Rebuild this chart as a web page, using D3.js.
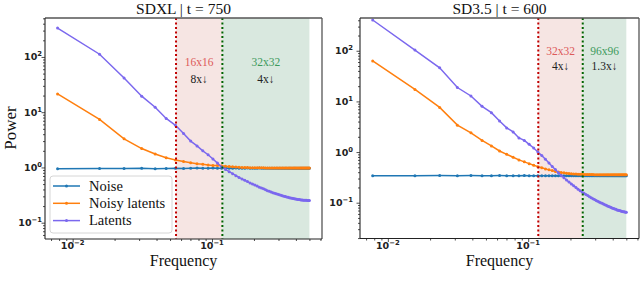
<!DOCTYPE html>
<html><head><meta charset="utf-8">
<script src="https://cdn.jsdelivr.net/npm/d3@7/dist/d3.min.js"></script>
<style>html,body{margin:0;padding:0;background:#fff;}svg{display:block;}</style>
</head><body>
<svg id="chart" width="640" height="303"></svg>
<script>
const freqs = [0.0078,0.0156,0.0234,0.0313,0.0391,0.0469,0.0547,0.0625,0.0703,0.0781,0.0859,0.0938,0.1016,0.1094,0.1172,0.125,
0.1328,0.1406,0.1484,0.1563,0.1641,0.1719,0.1797,0.1875,0.1953,0.2031,0.2109,0.2188,0.2266,0.2344,0.2422,0.25,
0.2578,0.2656,0.2734,0.2813,0.2891,0.2969,0.3047,0.3125,0.3203,0.3281,0.3359,0.3438,0.3516,0.3594,0.3672,0.375,
0.3828,0.3906,0.3984,0.4063,0.4141,0.4219,0.4297,0.4375,0.4453,0.4531,0.4609,0.4688,0.4766,0.4844,0.4922,0.5];

const seriesNames = ["Noise","Noisy latents","Latents"];
const seriesColors = ["#1f77b4","#ff7f0e","#7b68ee"];

const sdxlNoise = [0.95,0.96,0.96,0.97,0.95,0.96,0.97,0.96,0.97,0.98,0.97,0.97,0.98,0.97,0.97,0.98,
0.97,0.97,0.98,0.97,0.97,0.97,0.98,0.97,0.97,0.97,0.97,0.98,0.97,0.97,0.97,0.97,
0.97,0.97,0.97,0.97,0.97,0.97,0.97,0.97,0.97,0.97,0.97,0.97,0.97,0.97,0.97,0.97,
0.97,0.97,0.97,0.97,0.97,0.97,0.97,0.97,0.97,0.97,0.97,0.97,0.97,0.97,0.97,0.97];
const sdxlNoisy = [21.4,7.4,3.3,2.2,1.75,1.5,1.37,1.28,1.22,1.17,1.14,1.11,1.09,1.08,1.07,1.05,
1.04,1.03,1.02,1.01,1.0,1.0,1.0,0.99,0.99,0.99,0.99,0.99,0.99,0.99,0.98,0.98,
0.98,0.98,0.98,0.98,0.98,0.98,0.98,0.98,0.98,0.98,0.98,0.98,0.98,0.98,0.98,0.98,
0.98,0.98,0.98,0.98,0.98,0.98,0.98,0.98,0.98,0.98,0.98,0.98,0.98,0.98,0.98,0.98];
const sdxlLatents = [334,112,41.7,19.5,12.3,7.7,5.8,4.1,3.0,2.45,2.0,1.7,1.42,1.2,1.02,0.92,
0.84,0.77,0.71,0.66,0.62,0.585,0.555,0.525,0.5,0.48,0.46,0.44,0.425,0.41,0.395,0.38,
0.37,0.36,0.35,0.34,0.333,0.326,0.319,0.313,0.307,0.302,0.297,0.292,0.288,0.284,0.28,0.277,
0.274,0.271,0.268,0.266,0.264,0.262,0.26,0.258,0.257,0.256,0.255,0.254,0.254,0.253,0.253,0.253];

const sd35Noise = [0.342,0.342,0.343,0.342,0.343,0.342,0.342,0.343,0.342,0.342,0.342,0.343,0.342,0.342,0.342,0.342,
0.342,0.342,0.342,0.342,0.342,0.342,0.342,0.342,0.342,0.342,0.342,0.342,0.342,0.342,0.342,0.342,
0.342,0.342,0.342,0.342,0.342,0.342,0.342,0.342,0.342,0.342,0.342,0.342,0.342,0.342,0.342,0.342,
0.342,0.342,0.342,0.342,0.342,0.342,0.342,0.342,0.342,0.342,0.342,0.342,0.342,0.342,0.342,0.342];
const sd35Noisy = [63,17.2,7.6,3.4,2.4,1.7,1.32,1.05,0.9,0.79,0.7,0.64,0.59,0.55,0.515,0.49,
0.465,0.445,0.43,0.415,0.405,0.395,0.388,0.382,0.377,0.373,0.37,0.368,0.366,0.364,0.363,0.362,
0.361,0.36,0.36,0.359,0.359,0.358,0.358,0.358,0.357,0.357,0.357,0.357,0.356,0.356,0.356,0.356,
0.356,0.356,0.355,0.355,0.355,0.355,0.355,0.355,0.355,0.355,0.355,0.355,0.355,0.355,0.355,0.355];
const sd35Latents = [405,103,46,18.8,12.8,8.0,6.0,4.1,3.0,2.5,1.9,1.7,1.42,1.2,1.0,0.85,
0.72,0.61,0.52,0.45,0.39,0.345,0.31,0.28,0.255,0.235,0.215,0.2,0.185,0.173,0.162,0.153,
0.145,0.138,0.131,0.125,0.12,0.115,0.111,0.107,0.103,0.1,0.097,0.094,0.091,0.089,0.086,0.084,
0.082,0.08,0.078,0.077,0.075,0.074,0.072,0.071,0.07,0.069,0.068,0.067,0.066,0.066,0.065,0.065];

const titles = ["SDXL | t = 750","SD3.5 | t = 600"];
const cutoffs = [[0.0552,0.1187],[0.118,0.2446]];
const cutoffLabels = [["16x16","32x32"],["32x32","96x96"]];
const factorLabels = [["8x↓","4x↓"],["4x↓","1.3x↓"]];
const annotY = [[81,40],[100,50]];
const yDomains = [[0.0507,507],[0.01963,443.6]];
const xTickVals = [0.01,0.1];
const yTickVals = [0.1,1,10,100];

const panels = [
  {title:titles[0], series:[sdxlNoise,sdxlNoisy,sdxlLatents], cut:cutoffs[0], cutL:cutoffLabels[0], facL:factorLabels[0], aY:annotY[0], yDom:yDomains[0],
   x0:45, x1:322, y0:18, y1:239, lblGap:3, legend:true},
  {title:titles[1], series:[sd35Noise,sd35Noisy,sd35Latents], cut:cutoffs[1], cutL:cutoffLabels[1], facL:factorLabels[1], aY:annotY[1], yDom:yDomains[1],
   x0:360, x1:639, y0:18, y1:238.5, lblGap:7, legend:false}
];

const svg = d3.select("#chart");
const serif = "'Liberation Serif','Times New Roman',serif";
const sans = "'DejaVu Sans',sans-serif";

function logLabel(sel, v){
  const e = Math.round(Math.log10(v));
  sel.text(null);
  sel.append("tspan").text("10");
  sel.append("tspan").attr("dy",-4).attr("font-size",6.8).text(String(e).replace("-","−"));
}

panels.forEach(p=>{
  const fmin = d3.min(freqs), fmax = d3.max(freqs);
  const lmin = Math.log10(fmin), lmax = Math.log10(fmax), m = (lmax-lmin)*0.05;
  const x = d3.scaleLog().domain([Math.pow(10,lmin-m), Math.pow(10,lmax+m)]).range([p.x0,p.x1]);
  const y = d3.scaleLog().domain(p.yDom).range([p.y1,p.y0]);
  const g = svg.append("g");

  // shaded regions
  g.append("rect").attr("x",x(p.cut[0])).attr("y",p.y0).attr("width",x(p.cut[1])-x(p.cut[0])).attr("height",p.y1-p.y0).attr("fill","#f6e5e3");
  g.append("rect").attr("x",x(p.cut[1])).attr("y",p.y0).attr("width",x(fmax)-x(p.cut[1])).attr("height",p.y1-p.y0).attr("fill","#d9e8df");

  // series
  p.series.forEach((vals,i)=>{
    const pts = freqs.map((f,j)=>[f,vals[j]]);
    g.append("path").datum(pts).attr("fill","none").attr("stroke",seriesColors[i]).attr("stroke-width",1.5)
      .attr("d", d3.line().x(d=>x(d[0])).y(d=>y(d[1])));
    g.selectAll(null).data(pts).enter().append("circle").attr("cx",d=>x(d[0])).attr("cy",d=>y(d[1])).attr("r",1.5).attr("fill",seriesColors[i]);
  });

  // cutoff lines
  [["#c00000",p.cut[0]],["#006400",p.cut[1]]].forEach(([c,f])=>{
    g.append("line").attr("x1",x(f)).attr("x2",x(f)).attr("y1",p.y0).attr("y2",p.y1).attr("stroke",c).attr("stroke-width",2).attr("stroke-dasharray","2,2.5");
  });

  // annotations
  const annColors = ["#dd5a5a","#3d9a5c"];
  [0,1].forEach(k=>{
    const cx = (x(p.cut[k]) + (k===0 ? x(p.cut[1]) : x(fmax)))/2;
    g.append("text").attr("x",cx).attr("y",y(p.aY[0])+4).attr("text-anchor","middle").attr("font-family",serif).attr("font-size",11.5).attr("fill",annColors[k]).text(p.cutL[k]);
    g.append("text").attr("x",cx).attr("y",y(p.aY[1])+4).attr("text-anchor","middle").attr("font-family",serif).attr("font-size",11.5).attr("fill","#222").text(p.facL[k]);
  });

  // spines
  g.append("line").attr("x1",p.x0).attr("x2",p.x1).attr("y1",p.y0).attr("y2",p.y0).attr("stroke","#555").attr("stroke-width",1.3);
  g.append("line").attr("x1",p.x1).attr("x2",p.x1).attr("y1",p.y0).attr("y2",p.y1).attr("stroke","#555").attr("stroke-width",1.3);
  g.append("line").attr("x1",p.x0).attr("x2",p.x0).attr("y1",p.y0).attr("y2",p.y1).attr("stroke","#222").attr("stroke-width",1.1);
  g.append("line").attr("x1",p.x0).attr("x2",p.x1).attr("y1",p.y1).attr("y2",p.y1).attr("stroke","#222").attr("stroke-width",1.1);

  // x ticks
  const xd = x.domain();
  const xMinor = [];
  for(let e=-3;e<=0;e++) for(let k=2;k<=9;k++){ const v=k*Math.pow(10,e); if(v>=xd[0]&&v<=xd[1]) xMinor.push(v); }
  const xAxisMinor = d3.axisBottom(x).tickValues(xMinor).tickSize(2).tickFormat("");
  const xAxisMajor = d3.axisBottom(x).tickValues(xTickVals).tickSize(3.5).tickFormat("");
  [xAxisMinor,xAxisMajor].forEach(ax=>{
    const a = g.append("g").attr("transform",`translate(0,${p.y1})`).call(ax);
    a.select(".domain").remove();
    a.selectAll("line").attr("stroke","#222").attr("stroke-width",0.8);
  });
  xTickVals.forEach(v=>{
    const t = g.append("text").attr("x",x(v)).attr("y",249).attr("text-anchor","middle").attr("font-family",sans).attr("font-weight","bold").attr("font-size",9.5).attr("fill","#222");
    logLabel(t,v);
  });

  // y ticks
  const yd = y.domain();
  const yMinor = [];
  for(let e=-3;e<=3;e++) for(let k=2;k<=9;k++){ const v=k*Math.pow(10,e); if(v>=yd[0]&&v<=yd[1]) yMinor.push(v); }
  const yAxisMinor = d3.axisLeft(y).tickValues(yMinor).tickSize(2).tickFormat("");
  const yAxisMajor = d3.axisLeft(y).tickValues(yTickVals).tickSize(3.5).tickFormat("");
  [yAxisMinor,yAxisMajor].forEach(ax=>{
    const a = g.append("g").attr("transform",`translate(${p.x0},0)`).call(ax);
    a.select(".domain").remove();
    a.selectAll("line").attr("stroke","#222").attr("stroke-width",0.8);
  });
  yTickVals.forEach(v=>{
    const t = g.append("text").attr("x",p.x0-p.lblGap).attr("y",y(v)+3.5).attr("text-anchor","end").attr("font-family",sans).attr("font-weight","bold").attr("font-size",9.5).attr("fill","#222");
    logLabel(t,v);
  });

  // title & x label
  g.append("text").attr("x",(p.x0+p.x1)/2).attr("y",14).attr("text-anchor","middle").attr("font-family",serif).attr("font-size",15.5).attr("fill","#111").text(p.title);
  g.append("text").attr("x",(p.x0+p.x1)/2).attr("y",266).attr("text-anchor","middle").attr("font-family",serif).attr("font-size",16).attr("fill","#111").text("Frequency");

  if(p.legend){
    const lg = g.append("g");
    lg.append("rect").attr("x",50).attr("y",176).attr("width",122).attr("height",57).attr("rx",3).attr("fill","#fff").attr("fill-opacity",0.85).attr("stroke","#ccc").attr("stroke-width",0.8);
    seriesNames.forEach((n,i)=>{
      const cy = 186 + i*17.3;
      lg.append("line").attr("x1",53).attr("x2",80).attr("y1",cy).attr("y2",cy).attr("stroke",seriesColors[i]).attr("stroke-width",1.5);
      lg.append("circle").attr("cx",66.5).attr("cy",cy).attr("r",1.5).attr("fill",seriesColors[i]);
      lg.append("text").attr("x",89).attr("y",cy+4.5).attr("font-family",serif).attr("font-size",14.5).attr("fill","#111").text(n);
    });
  }
});

// y label
svg.append("text").attr("transform","translate(16,128) rotate(-90)").attr("text-anchor","middle").attr("font-family",serif).attr("font-size",17).attr("fill","#111").text("Power");
</script>
</body></html>
